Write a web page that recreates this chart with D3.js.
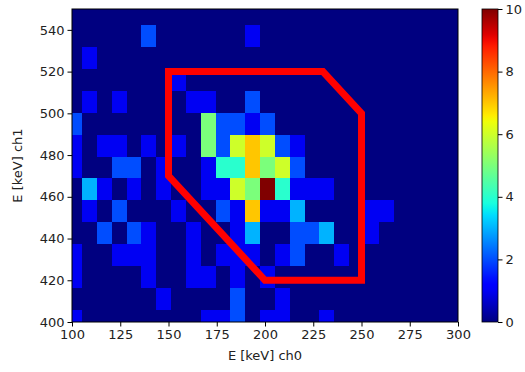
<!DOCTYPE html>
<html>
<head>
<meta charset="utf-8">
<script src="https://cdn.jsdelivr.net/npm/d3@7"></script>
<style>
  body { margin: 0; background: #fff; }
  text { font-family: "DejaVu Sans", sans-serif; fill: #222; }
</style>
</head>
<body>
<script>
// histogram bins (keV)
const xBinStart = 97.5, xBinWidth = 7.69
const yBinStart = 395.3, yBinHeight = 10.5

// counts, top row first (ch1 high -> low), 27 columns along ch0
const countsTopDown = [
  [0,0,0,0,0,0,0,0,0,0,0,0,0,0,0,0,0,0,0,0,0,0,0,0,0,0,0],
  [0,0,0,0,0,2,0,0,0,0,0,0,1,0,0,0,0,0,0,0,0,0,0,0,0,0,0],
  [0,1,0,0,0,0,0,0,0,0,0,0,0,0,0,0,0,0,0,0,0,0,0,0,0,0,0],
  [0,0,0,0,0,0,0,1,0,0,0,0,0,0,0,0,0,0,0,0,0,0,0,0,0,0,0],
  [0,1,0,1,0,0,0,0,1,1,0,0,2,0,0,0,0,0,0,0,0,0,0,0,0,0,0],
  [2,0,0,0,0,0,0,0,0,5,2,2,1,2,0,0,0,0,0,0,0,0,0,0,0,0,0],
  [1,0,1,1,0,1,0,1,0,5,2,6,7,6,2,1,0,0,0,0,0,0,0,0,0,0,0],
  [1,0,0,2,2,0,1,0,0,1,4,4,7,5,6,2,0,0,0,0,0,0,0,0,0,0,0],
  [0,3,1,0,1,0,1,0,0,1,1,6,5,10,4,1,1,1,0,0,0,0,0,0,0,0,0],
  [0,1,0,2,0,0,0,1,0,0,2,1,7,1,1,3,0,0,0,0,1,1,0,0,0,0,0],
  [0,0,2,0,2,1,0,0,1,0,0,1,3,0,0,2,2,3,0,0,1,0,0,0,0,0,0],
  [1,0,0,1,1,1,0,0,1,0,1,1,1,0,1,2,0,0,1,0,0,0,0,0,0,0,0],
  [1,0,0,0,0,1,0,0,1,1,0,1,0,1,0,0,0,0,0,0,0,0,0,0,0,0,0],
  [0,0,0,0,0,0,1,0,0,0,0,2,0,0,1,0,0,0,0,0,0,0,0,0,0,0,0],
  [1,0,0,0,0,0,0,0,0,1,1,2,0,1,1,0,0,1,0,0,0,0,0,0,0,0,0]
]

// cut polygon in (ch0, ch1)
const cutCh0 = [150, 230, 250, 250, 200, 150]
const cutCh1 = [520, 520, 500, 420, 420, 470]

const xTicks = [100, 125, 150, 175, 200, 225, 250, 275, 300]
const yTicks = [400, 420, 440, 460, 480, 500, 520, 540]
const cbTicks = [0, 2, 4, 6, 8, 10]

// matplotlib jet
const jetR = d3.scaleLinear().domain([0, 0.35, 0.66, 0.89, 1]).range([0, 0, 1, 1, 0.5]).clamp(true)
const jetG = d3.scaleLinear().domain([0, 0.125, 0.375, 0.64, 0.91, 1]).range([0, 0, 1, 1, 0, 0]).clamp(true)
const jetB = d3.scaleLinear().domain([0, 0.11, 0.34, 0.65, 1]).range([0.5, 1, 1, 0, 0]).clamp(true)
function jet(t) {
  return d3.rgb(jetR(t) * 255, jetG(t) * 255, jetB(t) * 255).formatHex()
}

const width = 525, height = 372
const mLeft = 72, mRight = 458, mTop = 9, mBottom = 322

const svg = d3.select("body").append("svg")
  .attr("width", width)
  .attr("height", height)

const x = d3.scaleLinear().domain([100, 300]).range([mLeft, mRight])
const y = d3.scaleLinear().domain([400, 550]).range([mBottom, mTop])
const color = d3.scaleLinear().domain([0, 10]).range([0, 1])

svg.append("clipPath").attr("id", "plotclip")
  .append("rect")
    .attr("x", mLeft).attr("y", mTop)
    .attr("width", mRight - mLeft).attr("height", mBottom - mTop)

const nRows = countsTopDown.length
let cells = []
countsTopDown.forEach((row, i) => {
  let r = nRows - 1 - i
  row.forEach((v, c) => cells.push({ c: c, r: r, v: v }))
})

let plot = svg.append("g").attr("clip-path", "url(#plotclip)")

// navy background so no seams show between cells
plot.append("rect")
  .attr("x", mLeft).attr("y", mTop)
  .attr("width", mRight - mLeft).attr("height", mBottom - mTop)
  .attr("fill", jet(0))

plot.selectAll("rect.cell")
  .data(cells)
  .enter()
  .append("rect")
    .attr("class", "cell")
    .attr("x", d => x(xBinStart + d.c * xBinWidth))
    .attr("y", d => y(yBinStart + (d.r + 1) * yBinHeight))
    .attr("width", d => x(xBinStart + (d.c + 1) * xBinWidth) - x(xBinStart + d.c * xBinWidth) + 0.5)
    .attr("height", d => y(yBinStart + d.r * yBinHeight) - y(yBinStart + (d.r + 1) * yBinHeight) + 0.5)
    .attr("fill", d => jet(color(d.v)))
    .attr("shape-rendering", "crispEdges")

let cutPts = cutCh0.map((v, i) => [x(v), y(cutCh1[i])])
plot.append("path")
  .attr("d", d3.line()(cutPts) + "Z")
  .attr("fill", "none")
  .attr("stroke", "#ff0000")
  .attr("stroke-width", 7)
  .attr("stroke-linejoin", "miter")

// axes
let xAxis = svg.append("g")
  .attr("transform", `translate(0,${mBottom})`)
  .call(d3.axisBottom(x).tickValues(xTicks).tickSize(4.5).tickPadding(3))
let yAxis = svg.append("g")
  .attr("transform", `translate(${mLeft},0)`)
  .call(d3.axisLeft(y).tickValues(yTicks).tickSize(4.5).tickPadding(3))

for (let ax of [xAxis, yAxis]) {
  ax.select(".domain").remove()
  ax.selectAll("line").attr("stroke", "#000").attr("stroke-width", 1)
  ax.selectAll("text").attr("font-size", 13).attr("fill", "#222")
    .attr("font-family", "DejaVu Sans")
}

svg.append("rect")
  .attr("x", mLeft).attr("y", mTop)
  .attr("width", mRight - mLeft).attr("height", mBottom - mTop)
  .attr("fill", "none").attr("stroke", "#000").attr("stroke-width", 1)

svg.append("text")
  .attr("x", (mLeft + mRight) / 2).attr("y", 360)
  .attr("text-anchor", "middle").attr("font-size", 13)
  .text("E [keV] ch0")

svg.append("text")
  .attr("transform", `translate(22,${(mTop + mBottom) / 2}) rotate(-90)`)
  .attr("text-anchor", "middle").attr("font-size", 13)
  .text("E [keV] ch1")

// colorbar
const cbLeft = 482, cbWidth = 16
const cb = d3.scaleLinear().domain([0, 10]).range([mBottom, mTop])

let grad = svg.append("defs").append("linearGradient")
  .attr("id", "jetgrad")
  .attr("x1", 0).attr("y1", 1).attr("x2", 0).attr("y2", 0)
grad.selectAll("stop")
  .data(d3.range(0, 1.0001, 0.02))
  .enter()
  .append("stop")
    .attr("offset", d => d)
    .attr("stop-color", d => jet(d))

svg.append("rect")
  .attr("x", cbLeft).attr("y", mTop)
  .attr("width", cbWidth).attr("height", mBottom - mTop)
  .attr("fill", "url(#jetgrad)")
  .attr("stroke", "#000").attr("stroke-width", 0.8)

let cbAxis = svg.append("g")
  .attr("transform", `translate(${cbLeft + cbWidth},0)`)
  .call(d3.axisRight(cb).tickValues(cbTicks).tickSize(4.5).tickPadding(3))
cbAxis.select(".domain").remove()
cbAxis.selectAll("line").attr("stroke", "#000").attr("stroke-width", 1)
cbAxis.selectAll("text").attr("font-size", 13).attr("fill", "#222")
  .attr("font-family", "DejaVu Sans")
</script>
</body>
</html>
